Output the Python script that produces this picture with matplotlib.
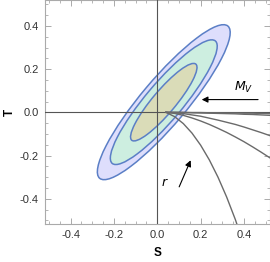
import matplotlib
matplotlib.use("Agg")
import matplotlib.pyplot as plt
from matplotlib.patches import Ellipse
from matplotlib.ticker import MultipleLocator, FormatStrFormatter

plt.rcParams['font.family'] = ['Liberation Sans', 'DejaVu Sans']

# confidence ellipses (outer -> inner): centre, semi-axes, tilt
ell_center = (0.03, 0.047)
ell_semi_major = [0.46, 0.37, 0.23]
ell_semi_minor = [0.105, 0.085, 0.053]
ell_angle = 50
ell_fill = ['#dedefc', '#cdeee0', '#dadcb8']
ell_edge = '#5b7fc6'

# model curves T(S) for several r, starting near S=0.04
s_grid = [0.04, 0.08, 0.12, 0.16, 0.20, 0.24, 0.28, 0.32, 0.36, 0.40, 0.44, 0.48, 0.52]
t_curves = [
    [0, 0, 0, -0.001, -0.001, -0.002, -0.002, -0.003, -0.003, -0.004, -0.004, -0.005, -0.006],
    [0, 0, -0.001, -0.002, -0.003, -0.004, -0.005, -0.006, -0.007, -0.009, -0.010, -0.012, -0.014],
    [0, -0.002, -0.006, -0.012, -0.018, -0.027, -0.036, -0.046, -0.056, -0.068, -0.081, -0.094, -0.108],
    [0, -0.005, -0.014, -0.026, -0.040, -0.056, -0.074, -0.093, -0.114, -0.136, -0.160, -0.185, -0.211],
]
s_steep = [0.04, 0.08, 0.12, 0.16, 0.20, 0.24, 0.28, 0.32, 0.36, 0.38]
t_steep = [0, -0.02, -0.052, -0.096, -0.152, -0.22, -0.30, -0.392, -0.496, -0.555]

fig = plt.figure(figsize=(2.70, 2.62), dpi=100)
ax = fig.add_axes([0.165, 0.145, 0.835, 0.855])

for a, b, fc in zip(ell_semi_major, ell_semi_minor, ell_fill):
    ax.add_patch(Ellipse(ell_center, 2 * a, 2 * b, angle=ell_angle,
                         facecolor=fc, edgecolor=ell_edge, lw=1.1, zorder=2))

ax.axhline(0, color='#555555', lw=0.8, zorder=3)
ax.axvline(0, color='#555555', lw=0.8, zorder=3)

for t in t_curves:
    ax.plot(s_grid, t, color='#6a6a6a', lw=1.0, zorder=4)
ax.plot(s_steep, t_steep, color='#6a6a6a', lw=1.0, zorder=4)

# annotations
ax.annotate('', xy=(0.205, 0.059), xytext=(0.465, 0.059),
            arrowprops=dict(arrowstyle='-|>', color='black', lw=0.8,
                            mutation_scale=9, shrinkA=0, shrinkB=0), zorder=5)
ax.text(0.40, 0.113, r'$M_V$', fontsize=9, ha='center', va='center')
ax.annotate('', xy=(0.154, -0.222), xytext=(0.101, -0.345),
            arrowprops=dict(arrowstyle='-|>', color='black', lw=0.8,
                            mutation_scale=9, shrinkA=0, shrinkB=0), zorder=5)
ax.text(0.035, -0.327, r'$r$', fontsize=9, ha='center', va='center')

ax.set_xlim(-0.52, 0.52)
ax.set_ylim(-0.517, 0.52)
ax.xaxis.set_major_locator(MultipleLocator(0.2))
ax.yaxis.set_major_locator(MultipleLocator(0.2))
ax.xaxis.set_minor_locator(MultipleLocator(0.05))
ax.yaxis.set_minor_locator(MultipleLocator(0.05))
ax.xaxis.set_major_formatter(FormatStrFormatter('%.1f'))
ax.yaxis.set_major_formatter(FormatStrFormatter('%.1f'))
ax.tick_params(which='both', direction='in', top=True, right=True,
               color='#aaaaaa', labelsize=8, labelcolor='#333333')
ax.tick_params(which='major', length=4, width=0.7, pad=4)
ax.tick_params(which='minor', length=2.2, width=0.6)
for sp in ax.spines.values():
    sp.set_color('#aaaaaa')
    sp.set_linewidth(0.8)

ax.set_xlabel('S', fontweight='bold', fontsize=8.5, labelpad=5)
ax.set_ylabel('T', fontweight='bold', fontsize=8.5, labelpad=3)

fig.savefig('out.png', dpi=100)
